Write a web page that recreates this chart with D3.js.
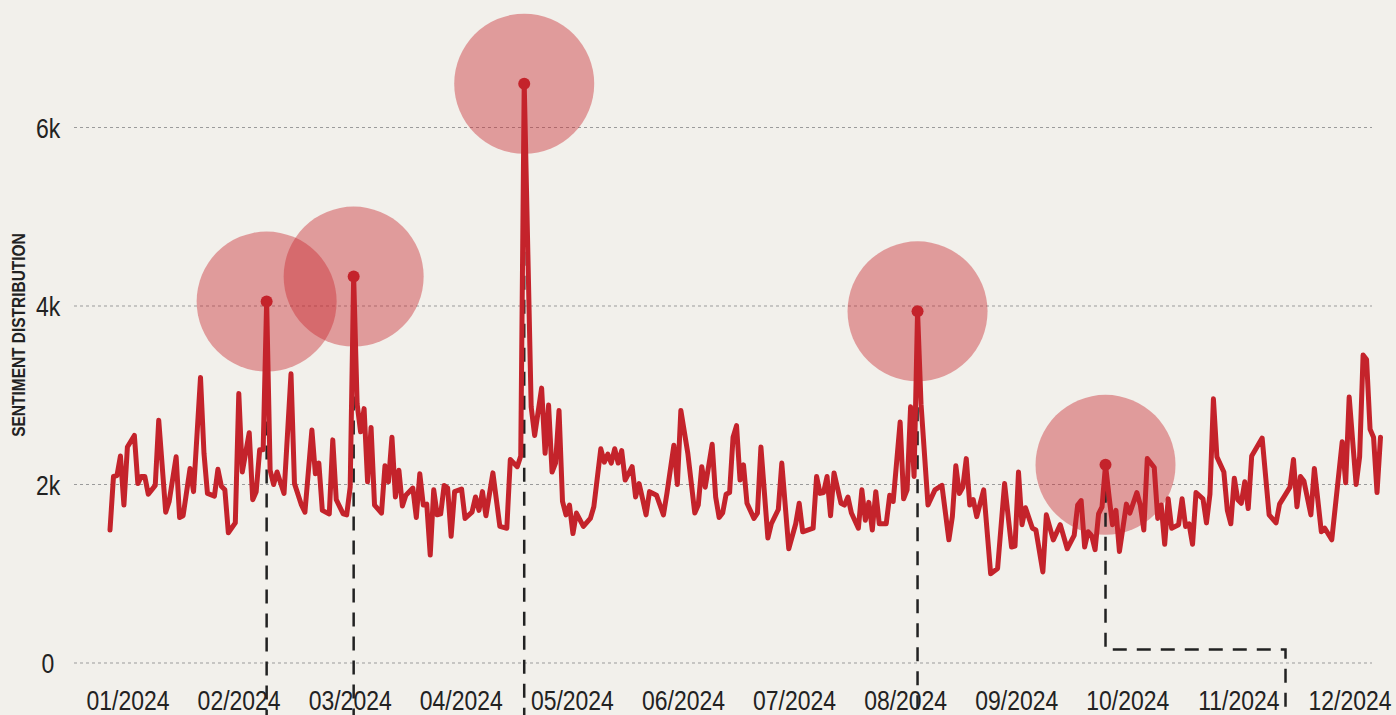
<!DOCTYPE html>
<html>
<head>
<meta charset="utf-8">
<script src="https://cdn.jsdelivr.net/npm/d3@7"></script>
<style>
  body { margin: 0; background: #f2f0eb; overflow: hidden; }
  svg { display: block; }
</style>
</head>
<body>
<div id="chart"></div>
<script>
// day of year (0 = 1 Jan 2024) and daily count
const dayOffsets = [
  0,1,2,3,4,5,7,8,9,10,11,13,14,16,17,19,20,21,23,24,26,27,28,30,31,32,33,34,36,37,
  38,40,41,42,43,44,45,46,47,48,50,52,53,55,56,58,59,60,61,63,64,65,67,68,69,
  70,71,72,73,74,75,76,78,79,80,81,82,83,84,85,87,88,89,90,91,92,93,94,95,96,97,98,99,
  101,102,104,105,106,107,108,110,112,114,115,117,118,119,121,122,124,125,126,127,128,129,
  130,131,132,133,134,136,138,139,141,142,143,144,145,146,147,148,150,151,152,153,154,155,
  156,157,159,160,162,163,164,166,168,169,170,171,173,174,175,176,177,178,179,180,181,182,
  183,185,186,187,189,190,192,193,195,197,198,199,202,203,204,205,206,207,208,210,211,212,
  213,215,216,217,218,219,220,221,223,224,225,227,228,229,230,231,232,233,235,237,239,241,
  242,243,244,245,246,247,248,249,251,253,255,257,259,260,261,262,263,265,266,268,269,271,
  273,275,277,278,279,280,281,282,283,284,285,286,287,288,289,290,292,293,295,296,297,298,
  300,301,302,303,304,305,307,308,309,310,311,312,314,315,316,317,318,320,321,322,323,324,
  325,326,327,328,331,333,335,336,339,340,341,342,343,345,346,348,349,351,354,355,356,358,
  359,360,361,362,363,364,365
];
const counts = [
  1490,2090,2100,2320,1770,2420,2550,2010,2090,2090,1890,1990,2720,1690,1810,2310,1630,1650,2180,1920,3200,2350,1900,1870,2170,1980,1940,1460,1570,3020,
  2140,2580,1830,1920,2390,2390,4050,2160,2000,2140,1900,3240,2010,1770,1690,2610,2120,2240,1710,1670,2500,1830,1670,1660,1970,
  4330,2900,2590,2850,2030,2640,1770,1680,2210,2030,2530,1860,2160,1760,1880,1960,1630,2120,1770,1780,1210,1940,1660,1670,1990,1960,1420,1920,
  1950,1620,1690,1860,1710,1920,1650,2130,1530,1510,2280,2200,2320,6490,2870,2550,3080,2350,2890,2140,2240,2830,
  1810,1660,1770,1450,1680,1530,1620,1750,2400,2250,2340,2240,2400,2240,2380,2050,2200,1860,2010,1840,1660,1920,
  1900,1880,1660,1900,2440,2000,2830,2350,1680,1770,2200,1970,2450,1860,1630,1680,1890,1910,2530,2660,2050,2220,
  1790,1620,1680,2420,1400,1560,1720,2240,1280,1560,1790,1470,1510,2090,1900,1910,2090,1650,2130,1790,1770,1860,
  1680,1510,1940,1600,1800,1490,1920,1560,1560,1880,1810,2700,1840,1940,2870,2090,3940,2900,1770,1940,1990,1380,
  1640,2210,1900,1970,2290,1770,1830,1640,1940,1000,1060,2010,1300,1310,2140,1550,1740,1510,1490,1020,1660,1380,
  1550,1280,1430,1770,1820,1300,1470,1430,1270,1670,1750,2220,1870,1550,1710,1250,1780,1680,1910,1770,1490,2290,
  2190,1620,1770,1330,1840,1510,1550,1840,1530,1560,1330,1910,1840,1570,1890,2960,2310,2140,1710,1560,2070,1830,
  1790,2030,1730,2320,2520,1660,1570,1780,1970,2280,1750,2090,2040,1660,2180,1470,1510,1380,2480,2020,2980,2000,
  2310,3450,3400,2620,2530,1910,2530
];
const highlightDays = [45, 70, 119, 232, 286];
const yTicks = [0, 2000, 4000, 6000];
const monthLabels = ["01/2024","02/2024","03/2024","04/2024","05/2024","06/2024",
                     "07/2024","08/2024","09/2024","10/2024","11/2024","12/2024"];

const width = 1396, height = 715;
const start = new Date(2024, 0, 1);
const data = dayOffsets.map((d, i) => ({ date: d3.timeDay.offset(start, d), value: counts[i] }));
const peaks = data.filter((d, i) => highlightDays.includes(dayOffsets[i]));

const svg = d3.select("#chart").append("svg")
  .attr("width", width)
  .attr("height", height);

const x = d3.scaleTime()
  .domain([start, new Date(2024, 11, 31)])
  .range([110, 1380.5]);

const y = d3.scaleLinear()
  .domain([0, 7000])
  .range([663, 38.25]);

const months = d3.scalePoint()
  .domain(monthLabels)
  .range([128, 1350]);

// no narrow face installed, so squeeze a regular one horizontally
const font = "'Liberation Sans', Arial, sans-serif";
const squeeze = 0.82;

// grid
svg.append("g")
  .selectAll("line")
  .data(yTicks)
  .join("line")
  .attr("x1", 74)
  .attr("x2", 1372)
  .attr("y1", d => y(d))
  .attr("y2", d => y(d))
  .attr("stroke", "#9b9b9b")
  .attr("stroke-width", 1)
  .attr("stroke-dasharray", "3,3");

svg.append("g")
  .selectAll("text")
  .data(yTicks)
  .join("text")
  .attr("transform", d => `translate(48,${y(d)}) scale(${squeeze},1)`)
  .attr("dy", "0.36em")
  .attr("text-anchor", "middle")
  .attr("font-family", font)
  .attr("font-size", 28)
  .attr("fill", "#222")
  .text(d => d === 0 ? "0" : d / 1000 + "k");

svg.append("text")
  .attr("transform", "translate(25,335) rotate(-90) scale(0.86,1)")
  .attr("text-anchor", "middle")
  .attr("font-family", font)
  .attr("font-weight", "bold")
  .attr("font-size", 18)
  .attr("fill", "#222")
  .text("SENTIMENT DISTRIBUTION");

svg.append("g")
  .selectAll("text")
  .data(monthLabels)
  .join("text")
  .attr("transform", d => `translate(${months(d)},710) scale(${squeeze},1)`)
  .attr("text-anchor", "middle")
  .attr("font-family", font)
  .attr("font-size", 28)
  .attr("fill", "#222")
  .text(d => d);

// highlight circles
svg.append("g")
  .selectAll("circle")
  .data(peaks)
  .join("circle")
  .attr("cx", d => x(d.date))
  .attr("cy", d => y(d.value))
  .attr("r", 70)
  .attr("fill", "#c8262e")
  .attr("fill-opacity", 0.42);

// dashed connectors down to the (off-screen) notes
const elbowY = y(150), elbowDx = 180;
svg.append("g")
  .selectAll("path")
  .data(peaks)
  .join("path")
  .attr("d", (d, i) => {
    const px = x(d.date), py = y(d.value);
    if (i === peaks.length - 1) {
      return `M${px},${py}V${elbowY}H${px + elbowDx}V${height + 20}`;
    }
    return `M${px},${py}V${height + 20}`;
  })
  .attr("fill", "none")
  .attr("stroke", "#222")
  .attr("stroke-width", 2.5)
  .attr("stroke-dasharray", "14,10");

const line = d3.line()
  .x(d => x(d.date))
  .y(d => y(d.value));

svg.append("path")
  .datum(data)
  .attr("d", line)
  .attr("fill", "none")
  .attr("stroke", "#c4232b")
  .attr("stroke-width", 5)
  .attr("stroke-linejoin", "round")
  .attr("stroke-linecap", "round");

svg.append("g")
  .selectAll("circle")
  .data(peaks)
  .join("circle")
  .attr("cx", d => x(d.date))
  .attr("cy", d => y(d.value))
  .attr("r", 6)
  .attr("fill", "#c4232b");
</script>
</body>
</html>
